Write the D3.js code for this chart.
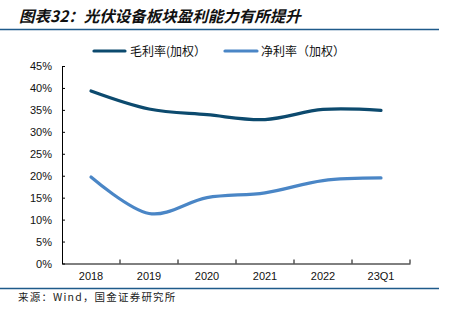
<!DOCTYPE html>
<html>
<head>
<meta charset="utf-8">
<script src="https://cdn.jsdelivr.net/npm/d3@7"></script>
<style>
  html, body { margin: 0; padding: 0; background: #fff; }
  svg { display: block; }
</style>
</head>
<body>
<svg id="chart" width="451" height="322"></svg>
<script>
// Categories and series (percent values)
const categories = ["2018", "2019", "2020", "2021", "2022", "23Q1"];
const grossMargin = [39.3, 35.2, 33.9, 32.8, 35.1, 34.9];
const netMargin = [19.7, 11.4, 15.0, 16.1, 18.9, 19.5];
const yTicks = [0, 5, 10, 15, 20, 25, 30, 35, 40, 45];
const seriesNames = ["毛利率(加权）", "净利率（加权）"];

const titleText = "图表32：光伏设备板块盈利能力有所提升";
const sourceText = "来源：Wind，国金证券研究所";

(function () {
const svg = d3.select("#chart");
const font = "'Liberation Sans', Arial, 'Noto Sans CJK SC', sans-serif";
const cjk = "'Noto Sans CJK SC', sans-serif";
const colors = ["#0c4a6e", "#4a86c6"];

// Title and rules
svg.append("text")
  .attr("x", 19).attr("y", 22)
  .attr("font-family", cjk)
  .attr("font-size", 15.5)
  .attr("font-weight", "bold")
  .attr("font-style", "italic")
  .attr("fill", "#111")
  .text(titleText);

svg.append("line")
  .attr("x1", 0).attr("x2", 439).attr("y1", 29.5).attr("y2", 29.5)
  .attr("stroke", "#1e5a8a").attr("stroke-width", 1.3);
svg.append("line")
  .attr("x1", 0).attr("x2", 439).attr("y1", 288.5).attr("y2", 288.5)
  .attr("stroke", "#1e5a8a").attr("stroke-width", 1.3);

svg.append("text")
  .attr("x", 18).attr("y", 301)
  .attr("font-family", cjk)
  .attr("font-size", 10.5)
  .attr("letter-spacing", 1.2)
  .attr("fill", "#222")
  .text(sourceText);

// Plot area
const plotLeft = 62, plotRight = 410, plotTop = 66, plotBottom = 263.5;

const x = d3.scaleBand().domain(categories).range([plotLeft, plotRight]).padding(0);
const y = d3.scaleLinear().domain([0, 45]).range([plotBottom, plotTop]);

// Y axis (ticks point inward)
const yAxis = d3.axisLeft(y)
  .tickValues(yTicks)
  .tickFormat(d => d + "%")
  .tickSizeInner(-3)
  .tickSizeOuter(0)
  .tickPadding(10);
const gy = svg.append("g").attr("transform", `translate(${plotLeft},0)`).call(yAxis);
gy.select(".domain").attr("stroke", "#000").attr("stroke-width", 1);
gy.selectAll(".tick line").attr("stroke", "#000");
gy.selectAll(".tick text")
  .attr("font-family", font).attr("font-size", 11).attr("fill", "#111");

// X axis (boundary ticks point inward)
const xAxis = d3.axisBottom(x).tickSize(0).tickPadding(9);
const gx = svg.append("g").attr("transform", `translate(0,${plotBottom})`).call(xAxis);
gx.select(".domain").attr("stroke", "#000").attr("stroke-width", 1);
gx.selectAll(".tick text")
  .attr("font-family", font).attr("font-size", 11).attr("fill", "#111");

const bounds = categories.map(c => x(c)).concat([x(categories[categories.length - 1]) + x.bandwidth()]);
gx.selectAll(".bound")
  .data(bounds.slice(1))
  .join("line")
  .attr("class", "bound")
  .attr("x1", d => d).attr("x2", d => d)
  .attr("y1", 0).attr("y2", -4)
  .attr("stroke", "#000");

// Lines
const line = d3.line()
  .x((d, i) => x(categories[i]) + x.bandwidth() / 2)
  .y(d => y(d))
  .curve(d3.curveCatmullRom.alpha(0));

[grossMargin, netMargin].forEach((s, i) => {
  svg.append("path")
    .datum(s)
    .attr("d", line)
    .attr("fill", "none")
    .attr("stroke", colors[i])
    .attr("stroke-width", 3.2)
    .attr("stroke-linecap", "round");
});

// Legend
const legendItems = [
  { x1: 94, x2: 125, tx: 130 },
  { x1: 225, x2: 257, tx: 261 }
];
legendItems.forEach((l, i) => {
  svg.append("line")
    .attr("x1", l.x1).attr("x2", l.x2)
    .attr("y1", 51).attr("y2", 51)
    .attr("stroke", colors[i]).attr("stroke-width", 3.2)
    .attr("stroke-linecap", "round");
  svg.append("text")
    .attr("x", l.tx).attr("y", 55.5)
    .attr("font-family", cjk)
    .attr("font-size", 12)
    .attr("fill", "#111")
    .text(seriesNames[i]);
});
})();
</script>
</body>
</html>
